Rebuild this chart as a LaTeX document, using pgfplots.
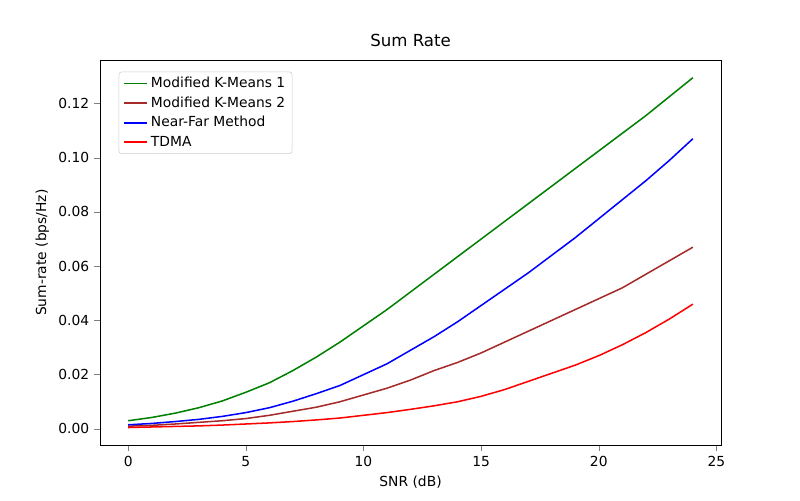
\documentclass[border=0pt]{standalone}
\usepackage{pgfplots}
\pgfplotsset{compat=1.18}
\usepackage{fontspec}
\setmainfont{DejaVu Sans}
\begin{document}
\begin{tikzpicture}
\begin{axis}[scale only axis, width=6.21in, height=3.85in,
 xmin=-1.2, xmax=25.2, ymin=-0.006, ymax=0.136,
 xtick={0,5,10,15,20,25}, ytick={0,0.02,0.04,0.06,0.08,0.10,0.12},
 yticklabel style={/pgf/number format/.cd,fixed,fixed zerofill,precision=2},
 /pgf/number format/assume math mode=true,
 tick align=outside, tick pos=left,
 font=\fontsize{10}{12}\selectfont,
 title={\fontsize{12}{14}\selectfont Sum Rate},
 xlabel={SNR (dB)}, ylabel={Sum-rate (bps/Hz)},
 legend pos=north west,
 legend style={draw=black!20, rounded corners=2pt, font=\fontsize{10}{12}\selectfont, row sep=1pt},
 legend cell align=left,
 every axis plot/.append style={line width=1.1pt}]
\addplot[color={rgb,255:red,0;green,128;blue,0}] coordinates {(0,0.003)(1,0.0042)(2,0.0058)(3,0.0078)(4,0.0103)(5,0.0135)(6,0.017)(7,0.0215)(8,0.0265)(9,0.032)(10,0.038)(11,0.044)(12,0.0505)(13,0.057)(14,0.0635)(15,0.070)(16,0.0765)(17,0.083)(18,0.0895)(19,0.096)(20,0.1025)(21,0.109)(22,0.1155)(23,0.1225)(24,0.1295)};
\addlegendentry{Modified K-Means 1}
\addplot[color={rgb,255:red,165;green,42;blue,42}] coordinates {(0,0.001)(1,0.0013)(2,0.0018)(3,0.0024)(4,0.003)(5,0.0038)(6,0.005)(7,0.0065)(8,0.008)(9,0.010)(10,0.0125)(11,0.015)(12,0.018)(13,0.0215)(14,0.0245)(15,0.028)(16,0.032)(17,0.036)(18,0.040)(19,0.044)(20,0.048)(21,0.052)(22,0.057)(23,0.062)(24,0.067)};
\addlegendentry{Modified K-Means 2}
\addplot[color=blue] coordinates {(0,0.0015)(1,0.002)(2,0.0027)(3,0.0035)(4,0.0046)(5,0.006)(6,0.0078)(7,0.0102)(8,0.013)(9,0.016)(10,0.020)(11,0.024)(12,0.029)(13,0.034)(14,0.0395)(15,0.0455)(16,0.0515)(17,0.0575)(18,0.064)(19,0.0705)(20,0.0775)(21,0.0845)(22,0.0915)(23,0.099)(24,0.107)};
\addlegendentry{Near-Far Method}
\addplot[color=red] coordinates {(0,0.0005)(1,0.0007)(2,0.0009)(3,0.0011)(4,0.0014)(5,0.0018)(6,0.0022)(7,0.0027)(8,0.0033)(9,0.004)(10,0.005)(11,0.006)(12,0.0072)(13,0.0085)(14,0.010)(15,0.012)(16,0.0145)(17,0.0175)(18,0.0205)(19,0.0235)(20,0.027)(21,0.031)(22,0.0355)(23,0.0405)(24,0.046)};
\addlegendentry{TDMA}
\coordinate (bl) at (rel axis cs:-0.161,-0.143);
\coordinate (tr) at (rel axis cs:1.127,1.156);
\end{axis}
\useasboundingbox (bl) rectangle (tr);
\end{tikzpicture}
\end{document}
